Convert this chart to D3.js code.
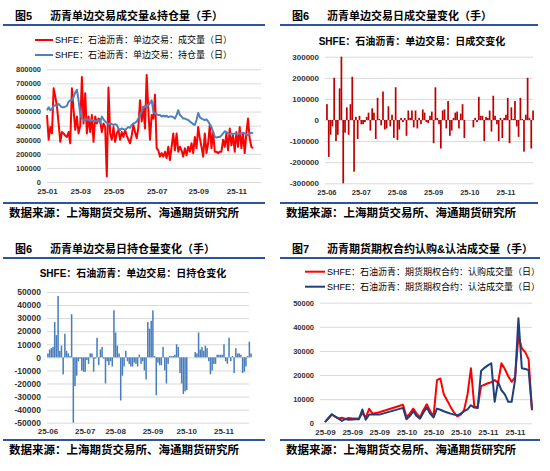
<!DOCTYPE html>
<html>
<head>
<meta charset="utf-8">
<script src="https://cdn.jsdelivr.net/npm/d3@7"></script>
<style>
body { margin: 0; background: #fff; }
svg { display: block; }
</style>
</head>
<body>
<div id="chart"></div>
<script>
//Chart 5: daily volume and open interest, Jan-Nov 2025 (hands)
let volume = [
	475000, 300000, 390000, 345000, 665000, 605000, 535000, 415000, 285000, 355000,
	345000, 330000, 320000, 355000, 275000, 665000, 510000, 370000, 465000, 345000,
	400000, 745000, 415000, 630000, 345000, 465000, 355000, 475000, 285000, 465000,
	415000, 450000, 440000, 355000, 415000, 390000, 40000, 670000, 345000, 300000,
	390000, 285000, 345000, 370000, 300000, 355000, 320000, 370000, 330000, 300000,
	275000, 330000, 405000, 355000, 310000, 390000, 580000, 430000, 535000, 380000,
	760000, 510000, 300000, 475000, 450000, 620000, 240000, 225000, 180000, 205000,
	180000, 215000, 170000, 250000, 155000, 250000, 345000, 225000, 345000, 215000,
	250000, 225000, 180000, 240000, 190000, 250000, 215000, 275000, 205000, 320000,
	240000, 390000, 310000, 250000, 180000, 345000, 205000, 275000, 405000, 240000,
	355000, 215000, 215000, 205000, 215000, 215000, 300000, 250000, 345000, 225000,
	380000, 260000, 330000, 215000, 355000, 250000, 390000, 240000, 345000, 205000,
	345000, 450000, 310000, 250000, 240000
];
let openInterest = [
	510000, 530000, 510000, 520000, 540000, 545000, 540000, 555000, 540000, 530000,
	530000, 535000, 540000, 570000, 580000, 580000, 605000, 635000, 655000, 580000,
	485000, 450000, 440000, 440000, 445000, 440000, 435000, 440000, 430000, 435000,
	430000, 440000, 420000, 465000, 445000, 430000, 420000, 410000, 415000, 410000,
	405000, 410000, 405000, 380000, 370000, 380000, 375000, 370000, 380000, 390000,
	385000, 405000, 415000, 420000, 430000, 450000, 475000, 500000, 530000, 540000,
	530000, 545000, 560000, 580000, 500000, 485000, 480000, 475000, 475000, 465000,
	470000, 465000, 470000, 460000, 465000, 465000, 460000, 450000, 475000, 510000,
	475000, 465000, 450000, 450000, 445000, 440000, 430000, 420000, 410000, 405000,
	440000, 490000, 460000, 450000, 445000, 440000, 445000, 430000, 410000, 390000,
	355000, 320000, 315000, 320000, 320000, 330000, 345000, 360000, 355000, 345000,
	340000, 345000, 340000, 345000, 345000, 340000, 345000, 345000, 350000, 345000,
	340000, 330000, 345000, 350000, 345000
];
let volTickIdx = [0, 20, 40, 66, 91, 114];
let volTickLabels = ["25-01", "25-03", "25-05", "25-07", "25-09", "25-11"];
let volYTicks = [0, 100000, 200000, 300000, 400000, 500000, 600000, 700000, 800000];

//Chart 6: daily change of volume
let volChange = [
	75000, -175000, -70000, -30000, 200000, -100000, -70000, 150000, 300000, -300000,
	-60000, 60000, -70000, 75000, 205000, -245000, 15000, -90000, 20000, -20000,
	-20000, -10000, 15000, 35000, -50000, 55000, 35000, -90000, 105000, 5000,
	-25000, 135000, -45000, -40000, 65000, -30000, 25000, -85000, 155000, -95000,
	-45000, 10000, -10000, 10000, -75000, 45000, 10000, 45000, -35000, 45000,
	-40000, 10000, -20000, 50000, 35000, -10000, -15000, 20000, 40000, -110000,
	155000, 10000, -20000, -135000, 45000, 50000, -40000, 90000, -75000, -50000,
	10000, 35000, 40000, -40000, 30000, 75000, -85000, null, null, null,
	null, -35000, 10000, -10000, 110000, 20000, 20000, -100000, 15000, 10000,
	45000, -55000, 115000, 20000, -20000, -100000, 10000, -85000, 10000, 25000,
	105000, -110000, 60000, 5000, 90000, -30000, -80000, 105000, 5000, -150000,
	25000, 200000, 10000, -135000, 45000
];
let volChangeTickIdx = [0, 19, 39, 59, 79, 99];
let volChangeTickLabels = ["25-06", "25-07", "25-08", "25-09", "25-10", "25-11"];
let volChangeYTicks = [-300000, -200000, -100000, 0, 100000, 200000, 300000];

//Chart 6 (lower): daily change of open interest
let oiChange = [
	3000, 6000, 7000, 8000, 27000, 17000, 47000, 5000, 9000, -13000,
	18000, 5000, 3000, 1000, 33000, -50000, -22000, -14000, -3000, -1000,
	-10000, -11000, -11000, -2000, -5000, 3000, 3000, -11000, -1000, 15000,
	-6000, 6000, 8000, -1000, -20000, -3000, -6000, -3000, -7000, 36000,
	19000, 9000, 3000, -33000, -14000, -7000, 5000, -3000, -5000, -7000,
	-7000, -4000, -5000, -7000, 2000, -5000, -3000, -10000, -17000, 27000,
	22000, 28000, 36000, 1000, -29000, -4000, -6000, -6000, 8000, -10000,
	-20000, -5000, 1000, 1000, 1000, 2000, 10000, 8000, -12000, -20000,
	-28000, -26000, -25000, null, null, null, null, 4000, 3000, 19000,
	6000, 8000, 5000, 9000, 7000, -3000, -13000, -10000, -5000, -5000,
	2000, 2000, 2000, 2000, 10000, -3000, -5000, 15000, -3000, 1000,
	-12000, 7000, 3000, 3000, 2000, -12000, -11000, -7000, 1000, 12000,
	3000
];
let oiChangeTickIdx = [0, 22, 40, 62, 82, 104];
let oiChangeTickLabels = ["25-06", "25-07", "25-08", "25-09", "25-10", "25-11"];
let oiChangeYTicks = [-50000, -40000, -30000, -20000, -10000, 0, 10000, 20000, 30000, 40000, 50000];

//Chart 7: option volume, calls and puts
let callVol = [
	600, 2000, 3600, 2800, 2000, 2300, 1800, 2200, 2000, 2000,
	1900, 4300, 2400, 6000, 4000, null, 4600, null, null, null,
	null, null, null, 7700, 2600, 4000, 6100, 4000, 2400, 5500,
	7900, 5000, 3000, 17900, 18600, 12000, 9500, 6800, 4500, 2900,
	3600, 5500, 12000, 22800, 7000, 6700, 15400, 16000, 16600, 17000,
	17900, 16800, 24900, 22500, 19500, 17200, 19000, 36000, 31100, 29500,
	26500, 5400
];
let putVol = [
	500, 2200, 3750, 2800, 1900, 1000, 1800, 1500, 1600, 1700,
	1700, 5700, 1500, 3600, 3600, null, 3600, null, null, null,
	null, null, null, 6400, 1700, 3000, 5000, 3000, 1900, 4500,
	6500, 4000, 2400, 6100, 5600, 5000, 4500, 4000, 3600, 3300,
	4000, 5000, 5800, 7500, 6500, 6300, 21700, 23000, 24000, 24900,
	8900, 17200, 13700, 12000, 8900, 8900, 17900, 43600, 22800, 22500,
	22100, 5700
];
let optTickIdx = [0, 8, 16, 24, 32, 40, 48, 56];
let optTickLabels = ["25-09", "25-09", "25-09", "25-10", "25-10", "25-10", "25-11", "25-11"];
let optYTicks = [0, 10000, 20000, 30000, 40000, 50000];

//Fonts and colours
let latin = "'Liberation Sans', Arial, 'Noto Sans CJK SC', sans-serif";
let ruleColor = "#2e54a0";
let gridColor = "#d9d9d9";

let svg = d3.select("#chart").append("svg")
	.attr("width", 550)
	.attr("height", 471);

//Panel frame: figure number, title, rules, source line
let drawFrame = function(x0, x1, fig, title, titleY, bottomY){
	svg.append("text")
		.attr("x", x0 + 12)
		.attr("y", titleY)
		.style("font-family", latin)
		.style("font-weight", "bold")
		.style("font-size", "11px")
		.text(fig);
	svg.append("text")
		.attr("x", x0 + 47)
		.attr("y", titleY)
		.style("font-family", latin)
		.style("font-weight", "bold")
		.style("font-size", "11px")
		.text(title);
	svg.append("line")
		.attr("x1", x0).attr("x2", x1)
		.attr("y1", titleY + 5).attr("y2", titleY + 5)
		.attr("stroke", ruleColor)
		.attr("stroke-width", 2);
	svg.append("line")
		.attr("x1", x0).attr("x2", x1)
		.attr("y1", bottomY).attr("y2", bottomY)
		.attr("stroke", ruleColor)
		.attr("stroke-width", 2);
	svg.append("text")
		.attr("x", x0 + 6)
		.attr("y", bottomY + 14)
		.style("font-family", latin)
		.style("font-weight", "bold")
		.style("font-size", "11.5px")
		.text("数据来源：上海期货交易所、海通期货研究所");
}

//Y axis with gridlines
let drawYAxis = function(scale, ticks, x0, x1, fontSize){
	svg.append("g")
		.attr("transform", "translate(" + x0 + ",0)")
		.call(d3.axisLeft(scale)
			.tickValues(ticks)
			.tickSize(-(x1 - x0))
			.tickPadding(6)
			.tickFormat(function(d){ return String(d); }))
		.call(function(g){ g.select(".domain").remove(); })
		.call(function(g){ g.selectAll("line").attr("stroke", gridColor); })
		.call(function(g){
			g.selectAll("text")
				.style("font-family", latin)
				.style("font-weight", "bold")
				.style("font-size", fontSize + "px")
				.attr("fill", "#333");
		});
}

//X axis labels only
let drawXAxis = function(scale, tickIdx, tickLabels, y, fontSize){
	svg.append("g")
		.attr("transform", "translate(0," + y + ")")
		.call(d3.axisBottom(scale)
			.tickValues(tickIdx)
			.tickSize(0)
			.tickPadding(6)
			.tickFormat(function(d, i){ return tickLabels[i]; }))
		.call(function(g){ g.select(".domain").remove(); })
		.call(function(g){
			g.selectAll("text")
				.style("font-family", latin)
				.style("font-weight", "bold")
				.style("font-size", fontSize + "px")
				.attr("fill", "#333");
		});
}

let drawLegend = function(x, y, color, label, len){
	svg.append("line")
		.attr("x1", x).attr("x2", x + len)
		.attr("y1", y).attr("y2", y)
		.attr("stroke", color)
		.attr("stroke-width", 2);
	svg.append("text")
		.attr("x", x + len + 2)
		.attr("y", y + 3)
		.style("font-family", latin)
		.style("font-size", "9px")
		.text(label);
}

//Bars from an array that may contain gaps
let drawBars = function(arr, x, y, color){
	svg.append("g").selectAll("rect")
			.data(arr.map(function(v, i){ return {i: i, v: v}; })
				.filter(function(d){ return d.v !== null; }))
		.enter()
			.append("rect")
				.attr("x", function(d){ return x(d.i); })
				.attr("width", x.bandwidth())
				.attr("y", function(d){ return y(Math.max(0, d.v)); })
				.attr("height", function(d){ return Math.abs(y(d.v) - y(0)); })
				.attr("fill", color);
}

drawFrame(3, 265, "图5", "沥青单边交易成交量&持仓量（手）", 20, 203);
drawFrame(280, 538, "图6", "沥青单边交易日成交量变化（手）", 20, 203);
drawFrame(3, 265, "图6", "沥青单边交易日持仓量变化（手）", 253, 440);
drawFrame(280, 540, "图7", "沥青期货期权合约认购&认沽成交量（手）", 253, 440);

//----- Chart 5 -----
let x5 = d3.scaleLinear().domain([0, volume.length - 1]).range([47, 253]);
let y5 = d3.scaleLinear().domain([0, 800000]).range([182, 69.3]);
drawYAxis(y5, volYTicks, 47, 261, 7.5);
drawXAxis(x5, volTickIdx, volTickLabels, 182, 8);

let line5 = function(arr){
	return d3.line()
		.x(function(d, i){ return x5(i); })
		.y(function(d){ return y5(d); })(arr);
}
svg.append("path")
	.attr("d", line5(volume))
	.attr("fill", "none")
	.attr("stroke", "#ff0000")
	.attr("stroke-width", 2)
	.attr("stroke-linejoin", "round");
svg.append("path")
	.attr("d", line5(openInterest))
	.attr("fill", "none")
	.attr("stroke", "#4f81bd")
	.attr("stroke-width", 2)
	.attr("stroke-linejoin", "round");

drawLegend(35, 40, "#ff0000", "SHFE：石油沥青：单边交易：成交量（日）", 18);
drawLegend(35, 55, "#4f81bd", "SHFE：石油沥青：单边交易：持仓量（日）", 18);

//----- Chart 6 upper: volume change bars -----
let x6 = d3.scaleBand().domain(d3.range(volChange.length)).range([326, 534]).padding(0.05);
let y6 = d3.scaleLinear().domain([-300000, 300000]).range([183.3, 56.7]);
drawYAxis(y6, volChangeYTicks, 325, 533, 8);
drawXAxis(x6, volChangeTickIdx, volChangeTickLabels, 183.3, 7.5);
drawBars(volChange, x6, y6, "#c00000");

svg.append("text")
	.attr("x", 412)
	.attr("y", 44.5)
	.attr("text-anchor", "middle")
	.style("font-family", latin)
	.style("font-weight", "bold")
	.style("font-size", "10px")
	.text("SHFE：石油沥青：单边交易：日成交变化");

//----- Chart 6 lower: open interest change bars -----
let x7 = d3.scaleBand().domain(d3.range(oiChange.length)).range([47, 252]).padding(0.1);
let y7 = d3.scaleLinear().domain([-50000, 50000]).range([422.7, 292]);
drawYAxis(y7, oiChangeYTicks, 47, 249, 8.5);
drawXAxis(x7, oiChangeTickIdx, oiChangeTickLabels, 422.7, 8);
drawBars(oiChange, x7, y7, "#4a7ebb");

svg.append("text")
	.attr("x", 133)
	.attr("y", 276.5)
	.attr("text-anchor", "middle")
	.style("font-family", latin)
	.style("font-weight", "bold")
	.style("font-size", "10px")
	.text("SHFE：石油沥青：单边交易：日持仓变化");

//----- Chart 7: option volume lines -----
let x8 = d3.scaleLinear().domain([0, callVol.length - 1]).range([325, 532]);
let y8 = d3.scaleLinear().domain([0, 50000]).range([423.3, 302.7]);
drawYAxis(y8, optYTicks, 320, 532, 7.5);
drawXAxis(x8, optTickIdx, optTickLabels, 423.3, 8);

let line8 = function(arr){
	let pts = arr.map(function(v, i){ return [i, v]; })
		.filter(function(p){ return p[1] !== null; });
	return d3.line()
		.x(function(p){ return x8(p[0]); })
		.y(function(p){ return y8(p[1]); })(pts);
}
svg.append("path")
	.attr("d", line8(callVol))
	.attr("fill", "none")
	.attr("stroke", "#ff0000")
	.attr("stroke-width", 2)
	.attr("stroke-linejoin", "round");
svg.append("path")
	.attr("d", line8(putVol))
	.attr("fill", "none")
	.attr("stroke", "#1f3f7f")
	.attr("stroke-width", 2)
	.attr("stroke-linejoin", "round");

drawLegend(305, 271.7, "#ff0000", "SHFE：石油沥青：期货期权合约：认购成交量（日）", 20);
drawLegend(305, 286.7, "#1f3f7f", "SHFE：石油沥青：期货期权合约：认沽成交量（日）", 20);
</script>
</body>
</html>
